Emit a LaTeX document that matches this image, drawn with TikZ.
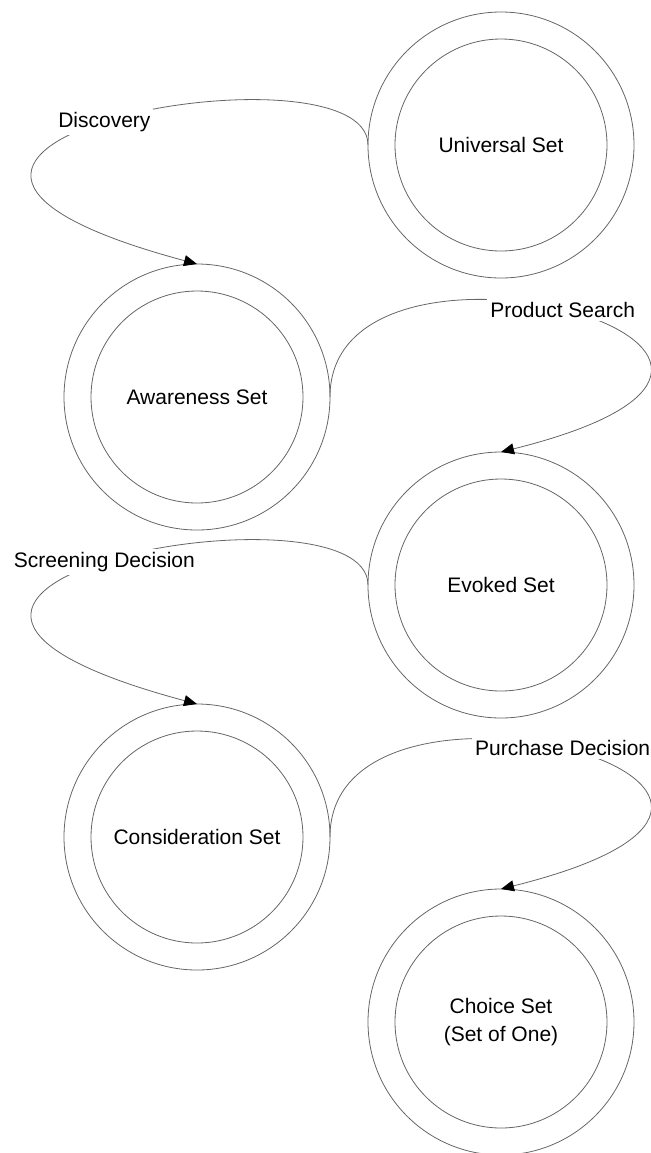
\documentclass[tikz,border=0pt]{standalone}
\usepackage{fontspec}
\setmainfont{Liberation Sans}
\usetikzlibrary{arrows.meta}
\begin{document}
\begin{tikzpicture}[x=0.5pt, y=0.5pt,
    font=\fontsize{10.5}{14}\selectfont,
    ring/.style={circle, draw=black!60, line width=0.4pt, inner sep=0pt, outer sep=0pt, minimum size=133pt},
    core/.style={circle, draw=black!60, line width=0.4pt, inner sep=0pt, minimum size=106pt, align=center},
    link/.style={draw=black!60, line width=0.4pt, -{Triangle[length=6.5pt, width=5.5pt, color=black]}},
    lbl/.style={fill=white, inner sep=1.5pt}]
  \useasboundingbox (0,0) rectangle (651,-1153);

  \node[ring] (uni) at (501,-145) {};
  \node[core] (uni-in) at (uni) {Universal Set};

  \node[ring] (aware) at (197,-397) {};
  \node[core] (aware-in) at (aware) {Awareness Set};

  \node[ring] (evoked) at (501,-585) {};
  \node[core] (evoked-in) at (evoked) {Evoked Set};

  \node[ring] (consid) at (197,-837) {};
  \node[core] (consid-in) at (consid) {Consideration Set};

  \node[ring] (choice) at (501,-1022) {};
  \node[core] (choice-in) at (choice) {Choice Set\\(Set of One)};

  % left loops
  \draw[link] (uni.west) .. controls +(90:110) and +(165:460) .. (aware.north)
    node[lbl, pos=0.52] (disc) {Discovery};
  \draw[link] (evoked.west) .. controls +(90:110) and +(165:460) .. (consid.north)
    node[lbl, pos=0.52] (screen) {Screening Decision};

  % right loops
  \draw[link] (aware.east) .. controls +(90:200) and +(14:420) .. (evoked.north)
    node[lbl, pos=0.49] (search) {Product Search};
  \draw[link] (consid.east) .. controls +(90:200) and +(14:420) .. (choice.north)
    node[lbl, pos=0.49] (purchase) {Purchase Decision};
\end{tikzpicture}
\end{document}
